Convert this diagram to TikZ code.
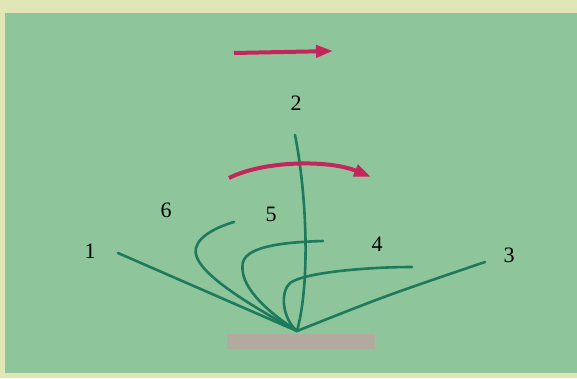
\documentclass[tikz,border=0pt]{standalone}
\usepackage{fontspec}
\setmainfont{Liberation Serif}
\usetikzlibrary{arrows.meta}
\definecolor{cream}{RGB}{224,230,182}
\definecolor{bggreen}{RGB}{142,197,155}
\definecolor{stemgreen}{RGB}{30,122,92}
\definecolor{arrowred}{RGB}{196,38,92}
\definecolor{barpink}{RGB}{178,170,158}
\tikzset{
  stemline/.style={draw=stemgreen,line width=2.6pt,line cap=round},
  flowarrow/.style={draw=arrowred,line width=4pt,-{Triangle[length=17pt,width=12pt]}},
  numlabel/.style={font=\fontsize{22}{22}\selectfont,inner sep=0pt}
}
\begin{document}
\begin{tikzpicture}[x=1pt,y=-1pt]
\useasboundingbox (0,0) rectangle (577,378);
\fill[cream] (0,0) rectangle (577,378);
\fill[bggreen] (5,13) rectangle (577,373);
% base bar
\fill[barpink] (227,334) rectangle (375,349);
% points
\coordinate (base) at (297,331);
\coordinate (t1) at (118,253);
\coordinate (t2) at (295,135);
\coordinate (t3) at (485,262);
\coordinate (t4) at (412,267);
\coordinate (t5) at (323,241);
\coordinate (t6) at (234,222);
% labels
\node[numlabel] (l2) at (296,103) {2};
\node[numlabel] (l6) at (166,210) {6};
\node[numlabel] (l5) at (271,214) {5};
\node[numlabel] (l1) at (90,251) {1};
\node[numlabel] (l4) at (377,244) {4};
\node[numlabel] (l3) at (509,255) {3};
% stems
\path[stemline] (t1) -- (base);
\path[stemline] (base) .. controls (385,296) .. (t3);
\path[stemline] (base) .. controls (250,305) and (190,270) .. (196,248) .. controls (199,235) and (220,226) .. (t6);
\path[stemline] (base) .. controls (265,310) and (238,285) .. (243,262) .. controls (248,245) and (290,242) .. (t5);
\path[stemline] (base) .. controls (282,318) and (280,292) .. (290,283) .. controls (305,272) and (370,267) .. (t4);
\path[stemline] (t2) .. controls (306,190) and (311,280) .. (base);
% arrows
\coordinate (a1s) at (234,53);
\coordinate (a1e) at (333,51);
\path[flowarrow] (a1s) -- (a1e);
\coordinate (a2s) at (229,178);
\coordinate (a2e) at (371,177);
\path[flowarrow] (a2s) .. controls (265,160) and (330,160) .. (a2e);
\end{tikzpicture}
\end{document}
